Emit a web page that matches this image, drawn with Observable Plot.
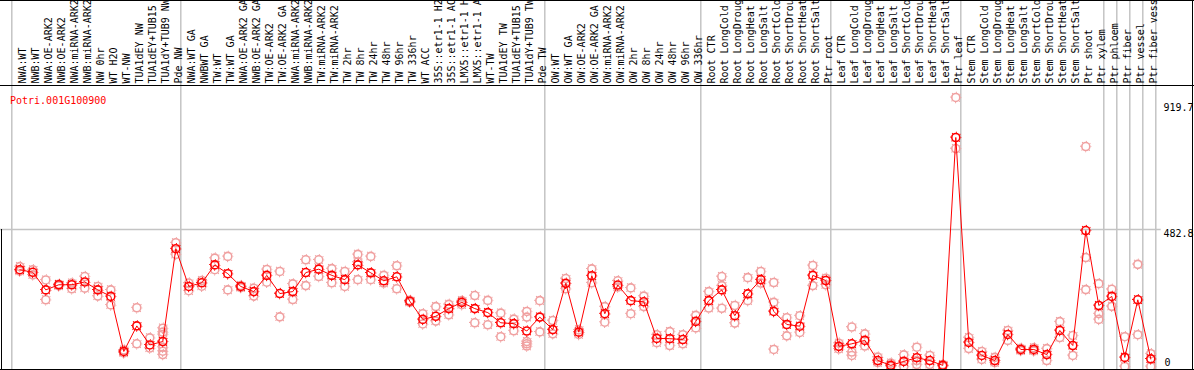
<!DOCTYPE html>
<html><head><meta charset="utf-8">
<script src="https://cdn.jsdelivr.net/npm/d3@7"></script>
<script src="https://cdn.jsdelivr.net/npm/@observablehq/plot@0.6"></script>
<style>body{margin:0;background:#fff} svg{display:block}</style>
</head><body><div id="chart"></div>
<script>
const geneId = "Potri.001G100900";
const categories = [
  "NWA:WT","NWB:WT","NWA:OE-ARK2","NWB:OE-ARK2","NWA:miRNA-ARK2","NWB:miRNA-ARK2","NW 0hr","WT H2O","WT-NW","TUA1dEY NW","TUA1dEY+TUB15","TUA1dY+TUB9 NW","Pde NW",
  "NWA:WT GA","NWBWT GA","TW:WT","TW:WT GA","NWA:OE-ARK2 GA","NWB:OE-ARK2 GA","TW:OE-ARK2","TW:OE-ARK2 GA","NWA:miRNA-ARK2","NWB:miRNA-ARK2","TW:miRNA-ARK2","TW:miRNA-ARK2","TW 2hr","TW 8hr","TW 24hr","TW 48hr","TW 96hr","TW 336hr","WT ACC","35S::etr1-1 H2","35S::etr1-1 AC","LMX5::etr1-1 H","LMX5::etr1-1 A","WT-TW","TUA1dEY TW","TUA1dEY+TUB15","TUA1dY+TUB9 TW","Pde TW",
  "OW:WT","OW:WT GA","OW:OE-ARK2","OW:OE-ARK2 GA","OW:miRNA-ARK2","OW:miRNA-ARK2","OW 2hr","OW 8hr","OW 24hr","OW 48hr","OW 96hr","OW 336hr",
  "Root CTR","Root LongCold","Root LongDroug","Root LongHeat","Root LongSalt","Root ShortCold","Root ShortDrou","Root ShortHeat","Root ShortSalt","Ptr root",
  "Leaf CTR","Leaf LongCold","Leaf LongDroug","Leaf LongHeat","Leaf LongSalt","Leaf ShortCold","Leaf ShortDrou","Leaf ShortHeat","Leaf ShortSalt","Ptr leaf",
  "Stem CTR","Stem LongCold","Stem LongDroug","Stem LongHeat","Stem LongSalt","Stem ShortCold","Stem ShortDrou","Stem ShortHeat","Stem ShortSalt","Ptr shoot","Ptr xylem",
  "Ptr phloem","Ptr fiber","Ptr vessel","Ptr fiber vess"
];
const means = [
  341,332,270,288,288,298,270,247,53,143,76,88,415,
  282,295,358,327,282,264,321,257,264,331,343,321,306,358,330,302,316,230,166,177,204,226,204,190,154,151,125,174,
  130,293,121,320,186,287,232,228,99,98,95,159,
  232,270,179,256,306,194,148,142,321,303,
  71,80,92,21,4,18,31,21,4,807,
  85,39,21,113,60,60,42,127,74,479,
  215,247,32,235,27
];
const replicates = [
  [352,336],[341,323],[305,235],[290,284],[294,274],[317,276],[282,248],[270,217],[58,48],[207,80],[101,65],[135,121,113,68,54,42],[436,395],
  [294,267],[303,283],[382,341],[388,270],[285,278],[276,248],[342,297],[335,175],[291,236],[376,285],[376,317],[345,295],[335,282],[395,368,306],[388,306],[321,294],[355,274],[233,226],[186,150],[211,160],[219,182],[232,218],[250,154],[233,147],[188,105],[167,126],[194,174,88,80,72],[232,122],
  [162,115],[310,274],[129,113],[344,295],[211,156],[302,280],[277,186],[248,211],[112,84],[123,74],[112,80],[180,136],
  [264,206],[317,285,205],[215,153],[313,232],[335,294],[296,226,60],[172,108],[179,120],[356,285],[311,288],
  [82,62],[139,51,39],[115,72],[33,14],[12,0],[41,0],[68,21,7],[39,7],[7,0],[948,768],
  [102,63],[53,25],[32,14],[92,127],[64,56],[66,55],[63,21],[158,102],[109,39],[775,384,271],
  [292,186,166],[272,212],[105,0],[360,112],[45,0]
];
const groupStarts = [0,13,41,53,63,73,84,85,86,87,88];
const yTicks = [919.7, 482.8, 0];

const repRows = replicates.flatMap((vals, i) => vals.map(v => ({i, v})));
const meanRows = means.map((v, i) => ({i, v}));
const pink = "#f0a0a0";
const red = "#ff0000";
const gray = "#c4c4c4";

function rings(data, color) {
  return [
    Plot.dot(data, {x: "i", y: "v", r: 4, stroke: color, strokeWidth: 1.6, fill: "none"}),
    Plot.dot(data, {x: "i", y: "v", r: 5.2, stroke: color, strokeWidth: 1.1, fill: "none", strokeDasharray: "1 3.08", strokeDashoffset: 0.5})
  ];
}

const chart = Plot.plot({
  width: 1194, height: 370, margin: 0,
  x: {type: "linear", domain: [0, 87], range: [19.3, 1150.3], axis: null},
  y: {type: "linear", domain: [0, 919.7], range: [366, 105], axis: null},
  style: {fontFamily: "'DejaVu Sans Mono', monospace", fontSize: "10px", background: "#fff", overflow: "hidden"},
  marks: [
    Plot.ruleX(groupStarts, {x: d => d, dx: -8, stroke: gray, strokeWidth: 1.5}),
    Plot.ruleY([yTicks[1]], {x1: -1.5, x2: 87.8, stroke: gray, strokeWidth: 1.5}),
    Plot.text(categories, {x: (d, i) => i, frameAnchor: "top", dx: -1, dy: 83, rotate: -90, textAnchor: "start", fill: "#000", fontSize: 10}),
    Plot.text([yTicks[0]], {y: d => d, text: d => String(d), frameAnchor: "right", dx: -31, dy: 2, textAnchor: "start", fill: "#000"}),
    Plot.text([yTicks[1]], {y: d => d, text: d => String(d), frameAnchor: "right", dx: -31, dy: 4, textAnchor: "start", fill: "#000"}),
    Plot.text([yTicks[2]], {y: d => d, text: d => String(d), frameAnchor: "right", dx: -30, dy: -4, textAnchor: "start", fill: "#000"}),
    Plot.text([geneId], {frameAnchor: "top-left", dx: 9.5, dy: 96.8, textAnchor: "start", fill: red}),
    ...rings(repRows, pink),
    Plot.line(meanRows, {x: "i", y: "v", stroke: red, strokeWidth: 1}),
    ...rings(meanRows, red)
  ]
});
document.getElementById("chart").appendChild(chart);

const g = d3.select(chart).append("g").attr("stroke", "#000").attr("stroke-width", 1).attr("fill", "none");
g.append("line").attr("x1", 0).attr("x2", 1194).attr("y1", 0.5).attr("y2", 0.5);
g.append("line").attr("x1", 0).attr("x2", 1194).attr("y1", 85.5).attr("y2", 85.5);
g.append("line").attr("x1", 0).attr("x2", 1194).attr("y1", 369.5).attr("y2", 369.5);
g.append("line").attr("x1", 1192.5).attr("x2", 1192.5).attr("y1", 0).attr("y2", 370);
g.append("line").attr("x1", 1.5).attr("x2", 1.5).attr("y1", 229).attr("y2", 370);
</script>
</body></html>
